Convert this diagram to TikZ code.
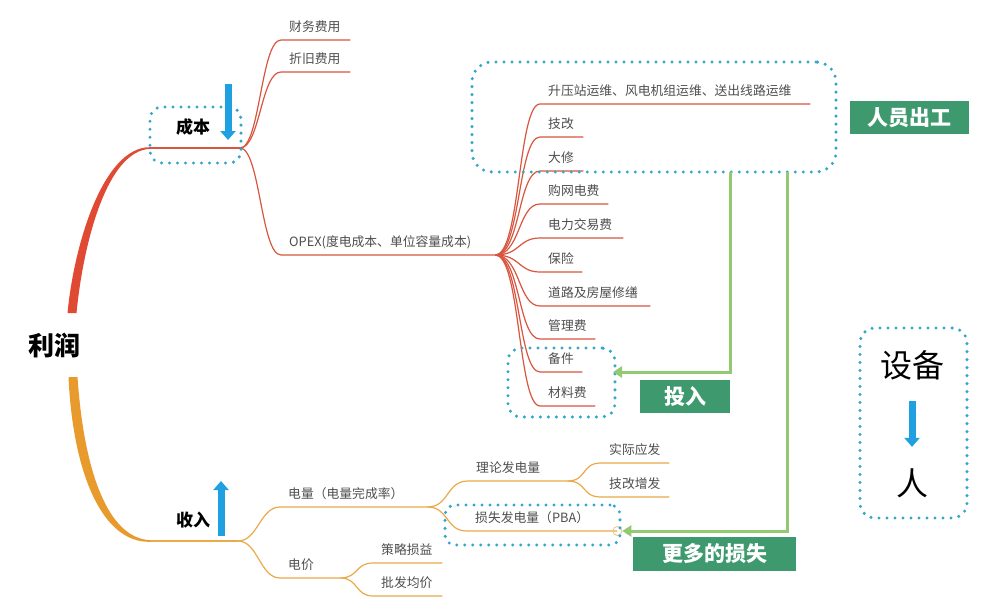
\documentclass[tikz,border=0pt]{standalone}
\usepackage{fontspec}
\setmainfont{Noto Sans CJK SC}
\usetikzlibrary{arrows.meta, positioning, calc}
\definecolor{cRed}{HTML}{D9553F}
\definecolor{mainRed}{HTML}{E04A32}
\definecolor{mainOrange}{HTML}{E89A2C}
\definecolor{rOrange}{HTML}{EAAA4A}
\definecolor{dotBlue}{HTML}{34A7C9}
\definecolor{arrBlue}{HTML}{1FA0E0}
\definecolor{tagGreen}{HTML}{3E9A6E}
\definecolor{lineGreen}{HTML}{92C972}
\definecolor{txtGray}{HTML}{4E4E4E}

\begin{document}
\begin{tikzpicture}[x=1pt, y=-1pt,
      leaf/.style={anchor=south west, inner xsep=8pt, inner ysep=5.6pt, text width=#1, align=left,
        text height=9.5pt, text depth=2.5pt, text=txtGray, font=\fontsize{12.8}{15}\selectfont},
      cbr/.style={draw=cRed, line width=1.2pt},
      rbr/.style={draw=rOrange, line width=1.2pt},
      dotbox/.style={draw=dotBlue, line width=3.4pt, dash pattern=on 0pt off 8pt, line cap=round, rounded corners=13pt, inner sep=0pt},
      tag/.style={fill=tagGreen, text=white, font=\fontsize{21}{24}\selectfont\bfseries, inner sep=0pt},
      lbl/.style={font=\fontsize{17}{20}\selectfont\bfseries},
      bigarr/.style={draw=arrBlue, line width=7pt, -{Triangle[width=15pt,length=9pt]}},
      feed/.style={draw=lineGreen, line width=3pt, -{Triangle[width=11pt,length=9pt]}}]
    \fill[white] (0,0) rectangle (1000,615);
    \useasboundingbox (0,0) rectangle (1000,615);

    % root and the two main branches
    \node[font=\fontsize{26}{30}\selectfont\bfseries] (profit) at (54,345) {利润};
    \coordinate (r0) at (72,313); \coordinate (cost-s) at (150,148); \coordinate (cost) at (240,148);
    \coordinate (o0) at (73,377); \coordinate (inc-s) at (150,541); \coordinate (inc) at (238,541);
    \fill[mainRed] ($(r0)+(-4.5,0)$) .. controls (74,245) and (103,147) .. ($(cost-s)+(0,-0.8)$)
      -- ($(cost-s)+(0,0.8)$) .. controls (106,151) and (83,246) .. ($(r0)+(4.5,0)$) -- cycle;
    \fill[mainOrange] ($(o0)+(-4.5,0)$) .. controls (73,475) and (103,543) .. ($(inc-s)+(0,0.8)$)
      -- ($(inc-s)+(0,-0.8)$) .. controls (108,538) and (84,472) .. ($(o0)+(4.5,0)$) -- cycle;
    \draw[cbr] (cost-s) -- (cost);
    \draw[rbr] (inc-s) -- (inc);

    % cost side
    \node[lbl] (costlbl) at (193,127) {成本};
    \node[leaf=53pt] (fin) at (281,40) {财务费用};
    \node[leaf=53pt] (dep) at (281,72) {折旧费用};
    \node[leaf=198pt] (opexn) at (281,255) {OPEX(度电成本、单位容量成本)};
    \draw[cbr] (cost) .. controls +(20,0) and +(-20,0) .. (fin.south west) -- (fin.south east);
    \draw[cbr] (cost) .. controls +(20,0) and +(-20,0) .. (dep.south west) -- (dep.south east);
    \draw[cbr] (cost) .. controls +(20,0) and +(-20,0) .. (opexn.south west) -- (opexn.south east);
    \coordinate (opex) at (opexn.south east);

    \node[leaf=254pt] (om)    at (540,104) {升压站运维、风电机组运维、送出线路运维};
    \node[leaf=27pt]  (tech)  at (540,137) {技改};
    \node[leaf=27pt]  (ovh)   at (540,171) {大修};
    \node[leaf=52pt]  (grid)  at (540,204) {购网电费};
    \node[leaf=67pt]  (trade) at (540,238) {电力交易费};
    \node[leaf=26pt]  (ins)   at (540,272) {保险};
    \node[leaf=94pt]  (road)  at (540,306) {道路及房屋修缮};
    \node[leaf=39pt]  (mgmt)  at (540,339) {管理费};
    \node[leaf=26pt]  (spare) at (540,372) {备件};
    \node[leaf=39pt]  (mat)   at (540,406) {材料费};
    \draw[cbr] (opex) .. controls +(25,0) and +(-22,0) .. (om.south west) -- (om.south east);
    \draw[cbr] (opex) .. controls +(25,0) and +(-22,0) .. (tech.south west) -- (tech.south east);
    \draw[cbr] (opex) .. controls +(25,0) and +(-22,0) .. (ovh.south west) -- (ovh.south east);
    \draw[cbr] (opex) .. controls +(25,0) and +(-22,0) .. (grid.south west) -- (grid.south east);
    \draw[cbr] (opex) .. controls +(25,0) and +(-22,0) .. (trade.south west) -- (trade.south east);
    \draw[cbr] (opex) .. controls +(25,0) and +(-22,0) .. (ins.south west) -- (ins.south east);
    \draw[cbr] (opex) .. controls +(25,0) and +(-22,0) .. (road.south west) -- (road.south east);
    \draw[cbr] (opex) .. controls +(25,0) and +(-22,0) .. (mgmt.south west) -- (mgmt.south east);
    \draw[cbr] (opex) .. controls +(25,0) and +(-22,0) .. (spare.south west) -- (spare.south east);
    \draw[cbr] (opex) .. controls +(25,0) and +(-22,0) .. (mat.south west) -- (mat.south east);

    % income side
    \node[lbl] (inclbl) at (193,520) {收入};
    \node[leaf=131pt] (qty)   at (280,507) {电量（电量完成率）};
    \node[leaf=44pt]  (price) at (280,578) {电价};
    \draw[rbr] (inc) .. controls +(20,0) and +(-20,0) .. (qty.south west) -- (qty.south east);
    \draw[rbr] (inc) .. controls +(20,0) and +(-20,0) .. (price.south west) -- (price.south east);
    \node[leaf=53pt]  (strat) at (373,563) {策略损益};
    \node[leaf=53pt]  (whole) at (373,596) {批发均价};
    \draw[rbr] (price.south east) .. controls +(18,0) and +(-18,0) .. (strat.south west) -- (strat.south east);
    \draw[rbr] (price.south east) .. controls +(18,0) and +(-18,0) .. (whole.south west) -- (whole.south east);
    \node[leaf=83pt]  (theo)  at (468,481) {理论发电量};
    \node[leaf=134pt] (loss)  at (467,531) {损失发电量（PBA）};
    \draw[rbr] (qty.south east) .. controls +(22,0) and +(-22,0) .. (theo.south west) -- (theo.south east);
    \draw[rbr] (qty.south east) .. controls +(22,0) and +(-22,0) .. (loss.south west) -- (loss.south east);
    \node[leaf=52pt]  (act)   at (601,463) {实际应发};
    \node[leaf=52pt]  (tgain) at (601,497) {技改增发};
    \draw[rbr] (theo.south east) .. controls +(20,0) and +(-20,0) .. (act.south west) -- (act.south east);
    \draw[rbr] (theo.south east) .. controls +(20,0) and +(-20,0) .. (tgain.south west) -- (tgain.south east);
    \node[circle, draw=rOrange!70, line width=0.8pt, minimum size=9pt, inner sep=0pt] (lossend) at (loss.south east) {};

    % dotted frames
    \node[dotbox, minimum width=91pt, minimum height=56pt, rounded corners=12pt] (costbox) at (195.5,135) {};
    \node[dotbox, minimum width=364pt, minimum height=110pt, rounded corners=20pt] (opsbox) at (654,117) {};
    \node[dotbox, minimum width=107pt, minimum height=69pt] (sparebox) at (561.5,382.5) {};
    \node[dotbox, minimum width=175pt, minimum height=40pt, rounded corners=10pt] (pbabox) at (532.5,525) {};
    \node[dotbox, minimum width=107pt, minimum height=190pt, rounded corners=15pt] (shiftbox) at (913.5,423) {};

    % blue arrows
    \coordinate (ca0) at (228,84); \coordinate (ca1) at (228,140);
    \draw[bigarr] (ca0) -- (ca1);
    \coordinate (ia0) at (221,536); \coordinate (ia1) at (221,481);
    \draw[bigarr] (ia0) -- (ia1);
    \node[font=\fontsize{32}{36}\selectfont] (equip) at (912,365) {设备};
    \node[font=\fontsize{32}{36}\selectfont] (person) at (912,483) {人};
    \draw[bigarr, shorten <=18pt, shorten >=18pt] (equip) -- (person);

    % green feedback lines and tags
    \coordinate (fd1) at (730,172); \coordinate (fd1e) at (613,372);
    \coordinate (fd2) at (787,172);
    \draw[feed] (fd1) |- (fd1e);
    \draw[feed] (fd2) |- (lossend.east);
    \node[tag, minimum width=119pt, minimum height=33pt] (staff) at (909.5,117.5) {人员出工};
    \node[tag, minimum width=90pt, minimum height=33pt] (invest) at (685,396.5) {投入};
    \node[tag, minimum width=163pt, minimum height=34pt] (moreloss) at (714.5,554) {更多的损失};
  \end{tikzpicture}
\end{document}
